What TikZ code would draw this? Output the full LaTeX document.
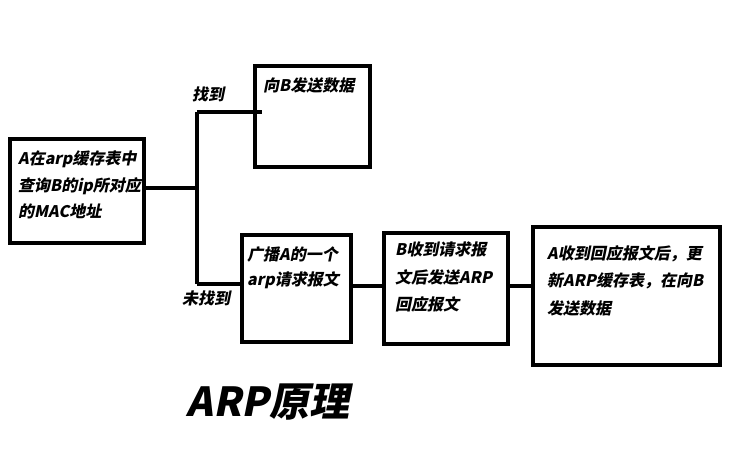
\documentclass[tikz,border=0pt]{standalone}
\usepackage{fontspec}
\setmainfont{Noto Sans CJK SC}[FakeSlant=0.2]
\tikzset{
  box/.style={draw=black, line width=4pt, fill=white, inner sep=0pt},
  conn/.style={draw=black, line width=4pt},
  txt/.style={inner sep=0pt, align=left, anchor=north west, font=\bfseries\fontsize{16}{26.5}\selectfont},
  lbl/.style={inner sep=0pt, font=\bfseries\fontsize{16}{18}\selectfont},
}
\begin{document}
\begin{tikzpicture}[x=1pt,y=-1pt]
\useasboundingbox (0,0) rectangle (756,476);
% boxes (centerline corners)
\node[box, minimum width=134pt, minimum height=104pt] (a) at (77,191) {};
\node[box, minimum width=115pt, minimum height=101pt] (found) at (312.5,116.5) {};
\node[box, minimum width=109pt, minimum height=107pt] (bcast) at (296.5,288.5) {};
\node[box, minimum width=124pt, minimum height=111pt] (brecv) at (446,288.5) {};
\node[box, minimum width=187pt, minimum height=138pt] (arecv) at (626.5,296) {};
% junction coordinates
\coordinate (j) at (197,188);
\coordinate (jt) at (197,112);
\coordinate (jb) at (197,284);
\coordinate (te) at (262,112);
% connectors
\draw[conn] (a.east |- j) -- (j);
\draw[conn] (jt) -- (jb);
\draw[conn] (jt) -- (te);
\draw[conn] (jb) -- (jb -| bcast.west);
\draw[conn] ([yshift=2.5pt]bcast.east) -- ([yshift=2.5pt]brecv.west);
\draw[conn] ([yshift=2.5pt]brecv.east) -- ([yshift=2.5pt]brecv.east -| arecv.west);
% texts
\node[txt] (ta) at (18,151) {A在arp缓存表中\\查询B的ip所对应\\的MAC地址};
\node[txt] (tf) at (263,77) {向B发送数据};
\node[txt, font=\bfseries\fontsize{16}{25}\selectfont] (tb) at (247,247) {广播A的一个\\arp请求报文};
\node[txt, font=\bfseries\fontsize{16}{27.5}\selectfont] (tr) at (395,242) {B收到请求报\\文后发送ARP\\回应报文};
\node[txt, font=\bfseries\fontsize{16}{27.5}\selectfont] (tq) at (547,245) {A收到回应报文后，更\\新ARP缓存表，在向B\\发送数据};
\node[lbl] (l1) at (208,94) {找到};
\node[lbl] (l2) at (206,298) {未找到};
\node[inner sep=0pt, font=\bfseries\fontsize{40}{44}\selectfont] (title) at (268,402) {ARP原理};
\end{tikzpicture}
\end{document}
